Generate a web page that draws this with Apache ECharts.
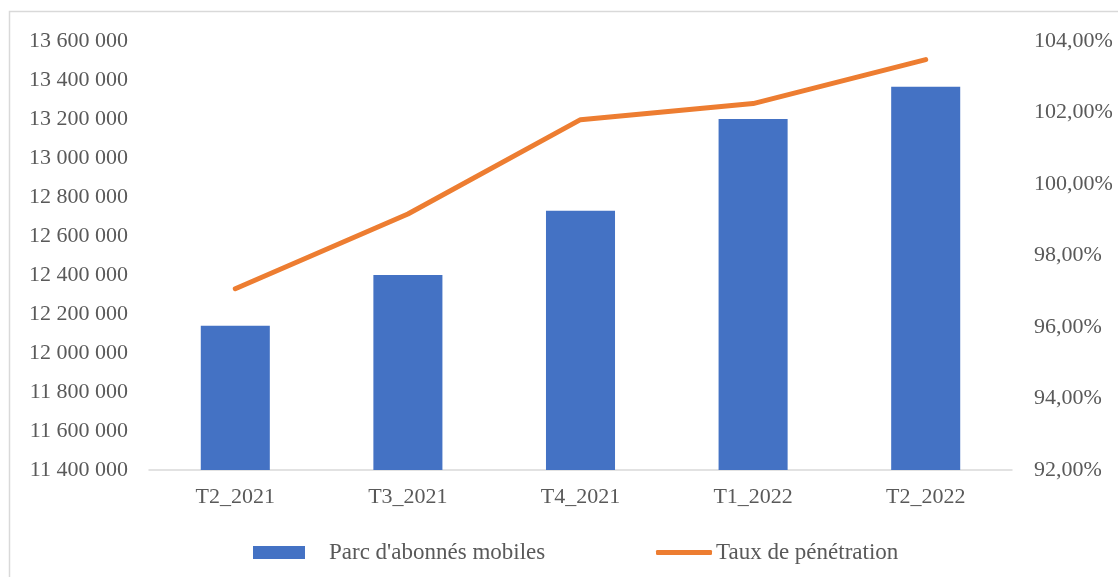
<!DOCTYPE html>
<html>
<head>
    <meta charset="utf-8">
    <script src="https://cdn.jsdelivr.net/npm/echarts@6/dist/echarts.min.js"></script>
    <style>
        html, body { margin: 0; padding: 0; background: #fff; }
        #main { width: 1118px; height: 577px; }
    </style>
</head>
<body>
<div id="main"></div>
<script type="text/javascript">
    // données
    var trimestres = ['T2_2021', 'T3_2021', 'T4_2021', 'T1_2022', 'T2_2022'];
    var parcAbonnes = [12140000, 12400000, 12730000, 13200000, 13365000];
    var tauxPenetration = [97.07, 99.16, 101.80, 102.25, 103.48];

    var nomBarre = "Parc d'abonnés mobiles";
    var nomLigne = 'Taux de pénétration';
    var police = 'Liberation Serif';
    var gris = '#595959';

    var myChart = echarts.init(document.getElementById('main'));
    var option = {
        animation: false,
        textStyle: {fontFamily: police},
        graphic: [{
            type: 'rect',
            shape: {x: 9.5, y: 11.5, width: 1130, height: 590},
            style: {fill: 'none', stroke: '#d9d9d9', lineWidth: 1.5},
            silent: true
        }],
        grid: {left: 149, right: 106, top: 41, bottom: 107},
        legend: [
            {
                data: [nomBarre], left: 248, top: 536,
                icon: 'rect', itemWidth: 52, itemHeight: 13,
                textStyle: {fontFamily: police, fontSize: 23, color: gris, padding: [0, 0, 0, 19]}
            },
            {
                data: [nomLigne], left: 651, top: 536,
                icon: 'roundRect', itemWidth: 56, itemHeight: 5,
                textStyle: {fontFamily: police, fontSize: 23, color: gris, padding: [0, 0, 0, -1]}
            }
        ],
        xAxis: {
            type: 'category',
            data: trimestres,
            axisTick: {show: false},
            axisLine: {lineStyle: {color: '#d9d9d9', width: 1.5}},
            axisLabel: {color: gris, fontSize: 22, fontFamily: police, margin: 16}
        },
        yAxis: [
            {
                type: 'value', min: 11400000, max: 13600000, interval: 200000,
                splitLine: {show: false},
                axisLabel: {
                    color: gris, fontSize: 22, fontFamily: police, margin: 21,
                    formatter: function (v) {
                        return String(v).replace(/\B(?=(\d{3})+(?!\d))/g, ' ');
                    }
                }
            },
            {
                type: 'value', min: 92, max: 104, interval: 2,
                position: 'right',
                splitLine: {show: false},
                axisLabel: {
                    color: gris, fontSize: 22, fontFamily: police, margin: 22,
                    formatter: function (v) {
                        return v.toFixed(2).replace('.', ',') + '%';
                    }
                }
            }
        ],
        series: [
            {
                name: nomBarre, type: 'bar',
                data: parcAbonnes,
                barWidth: '40%',
                itemStyle: {color: '#4472C4'}
            },
            {
                name: nomLigne, type: 'line',
                yAxisIndex: 1,
                data: tauxPenetration,
                showSymbol: false, symbol: 'none',
                lineStyle: {color: '#ED7D31', width: 5, cap: 'round'},
                itemStyle: {color: '#ED7D31'}
            }
        ]
    };
    myChart.setOption(option);
</script>
</body>
</html>
